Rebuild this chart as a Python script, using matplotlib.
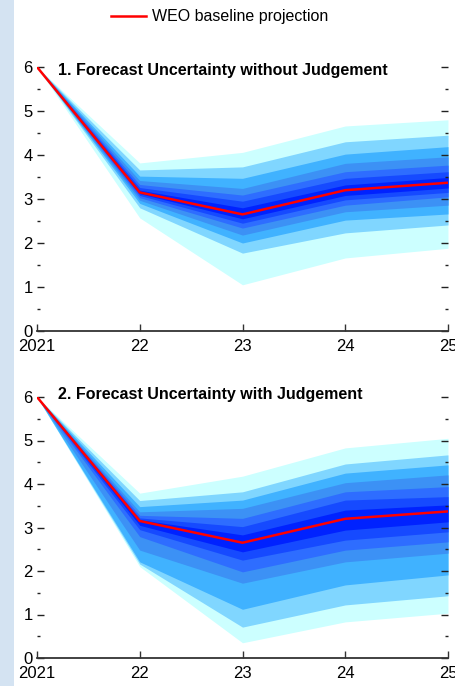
#fan charts of forecast uncertainty around the WEO baseline projection

import matplotlib
matplotlib.use('Agg')
import matplotlib.pyplot as plt
from matplotlib.patches import Rectangle

#years on the x axis and their tick labels
years = [2021, 2022, 2023, 2024, 2025]
year_labels = ['2021', '22', '23', '24', '25']

#baseline projection (same in both panels)
baseline = [6.0, 3.15, 2.65, 3.2, 3.37]

#panel 1: band edges, outermost band first
upper_1 = [[6.0, 3.82, 4.06, 4.66, 4.80],
           [6.0, 3.66, 3.73, 4.30, 4.45],
           [6.0, 3.52, 3.47, 4.02, 4.19],
           [6.0, 3.42, 3.24, 3.81, 3.96],
           [6.0, 3.33, 3.09, 3.62, 3.77],
           [6.0, 3.26, 2.95, 3.47, 3.62],
           [6.0, 3.20, 2.80, 3.32, 3.49]]
lower_1 = [[6.0, 2.57, 1.05, 1.66, 1.88],
           [6.0, 2.80, 1.77, 2.23, 2.41],
           [6.0, 2.90, 2.00, 2.52, 2.66],
           [6.0, 2.97, 2.18, 2.71, 2.86],
           [6.0, 3.03, 2.34, 2.86, 3.05],
           [6.0, 3.08, 2.45, 2.98, 3.15],
           [6.0, 3.12, 2.55, 3.08, 3.25]]

#panel 2: band edges, outermost band first
upper_2 = [[6.0, 3.79, 4.18, 4.83, 5.05],
           [6.0, 3.62, 3.82, 4.46, 4.67],
           [6.0, 3.48, 3.63, 4.25, 4.44],
           [6.0, 3.36, 3.44, 4.03, 4.21],
           [6.0, 3.28, 3.21, 3.82, 3.94],
           [6.0, 3.22, 3.02, 3.63, 3.71],
           [6.0, 3.18, 2.83, 3.40, 3.52]]
lower_2 = [[6.0, 2.10, 0.35, 0.83, 1.03],
           [6.0, 2.16, 0.71, 1.22, 1.43],
           [6.0, 2.21, 1.12, 1.68, 1.91],
           [6.0, 2.48, 1.72, 2.21, 2.41],
           [6.0, 2.79, 1.98, 2.48, 2.67],
           [6.0, 2.95, 2.25, 2.71, 2.90],
           [6.0, 3.05, 2.44, 2.94, 3.13]]

titles = ['1. Forecast Uncertainty without Judgement',
          '2. Forecast Uncertainty with Judgement']
title_y = [0.985, 1.01]

band_colors = ['#ccffff', '#80d6ff', '#40b2ff', '#3c91f5', '#2e6dff', '#164aff', '#0022ff']

plt.rcParams['font.family'] = ['Liberation Sans', 'DejaVu Sans']

fig = plt.figure(figsize=(4.55, 6.86), dpi=100)
fig.patches.append(Rectangle((0, 0), 14 / 455, 1, transform=fig.transFigure,
                             facecolor='#d4e3f2', edgecolor='none', zorder=0))

ax1 = fig.add_axes([37 / 455, 1 - 331 / 686, 411 / 455, 264 / 686])
ax2 = fig.add_axes([37 / 455, 1 - 658 / 686, 411 / 455, 261 / 686])

panels = [(ax1, upper_1, lower_1), (ax2, upper_2, lower_2)]

for i, (ax, upper, lower) in enumerate(panels):
    ax.patch.set_alpha(0)
    for up, lo, col in zip(upper, lower, band_colors):
        ax.fill_between(years, lo, up, color=col, lw=0)
    line, = ax.plot(years, baseline, color='red', lw=1.8, label='WEO baseline projection')
    ax.set_xlim(2021, 2025)
    ax.set_ylim(0, 6)
    for s in ['top', 'left', 'right']:
        ax.spines[s].set_visible(False)
    ax.spines['bottom'].set_color('#333333')
    ax.spines['bottom'].set_linewidth(1.3)
    ax.set_xticks(years)
    ax.set_xticklabels(year_labels)
    ax.set_yticks(range(0, 7))
    ax.set_yticks([0.5, 1.5, 2.5, 3.5, 4.5, 5.5], minor=True)
    ax.tick_params(axis='y', which='major', direction='in', length=5, width=1, color='#222222',
                   left=True, right=True, labelsize=12, pad=3)
    ax.tick_params(axis='y', which='minor', direction='in', length=2.5, width=1, color='#222222',
                   left=True, right=True)
    ax.tick_params(axis='x', direction='in', length=5, width=1, color='#333333',
                   labelsize=12, pad=6)
    ax.text(0.05, title_y[i], titles[i], transform=ax.transAxes, fontsize=11.5, fontweight='bold',
            ha='left', va='center')

fig.legend(handles=[line], loc='center', bbox_to_anchor=(0.482, 1 - 17 / 686), frameon=False,
           fontsize=11.5, handlelength=2.2, handletextpad=0.35)

fig.savefig('out.png', dpi=100)
